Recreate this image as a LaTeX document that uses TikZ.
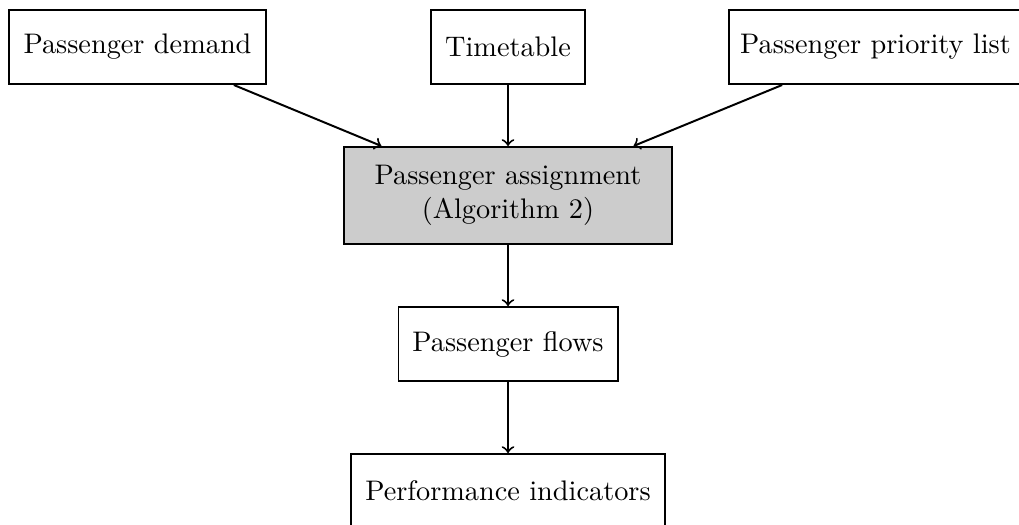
\documentclass[tikz,border=0pt]{standalone}
\begin{document}
\begin{tikzpicture}[x=0.3534pt,y=-0.3534pt,
  box/.style={draw, line width=0.7pt, inner sep=0pt, align=center, minimum height=26.15pt},
  arr/.style={->, line width=0.7pt}]
\useasboundingbox (0,0) rectangle (1019,524);
\clip (0,0) rectangle (1019,524);
\node[box, minimum width=90.8pt] (demand) at (137.5,47) {Passenger demand};
\node[box, minimum width=54.4pt] (time) at (508,47) {Timetable};
\node[box, minimum width=103.5pt] (prio) at (875.5,47) {Passenger priority list};
\node[box, fill=black!20, minimum width=115.6pt, minimum height=34.3pt] (assign) at (508,195.5) {Passenger assignment\\(Algorithm 2)};
\node[box, minimum width=77.4pt] (flows) at (508,344) {Passenger flows};
\node[box, minimum width=111pt] (perf) at (508,491) {Performance indicators};
\draw[arr] ([xshift=-11.7pt]demand.south east) -- ([xshift=13.4pt]assign.north west);
\draw[arr] (time.south) -- (assign.north);
\draw[arr] ([xshift=19.1pt]prio.south west) -- ([xshift=-13.8pt]assign.north east);
\draw[arr] (assign.south) -- (flows.north);
\draw[arr] (flows.south) -- (perf.north);
\end{tikzpicture}
\end{document}
